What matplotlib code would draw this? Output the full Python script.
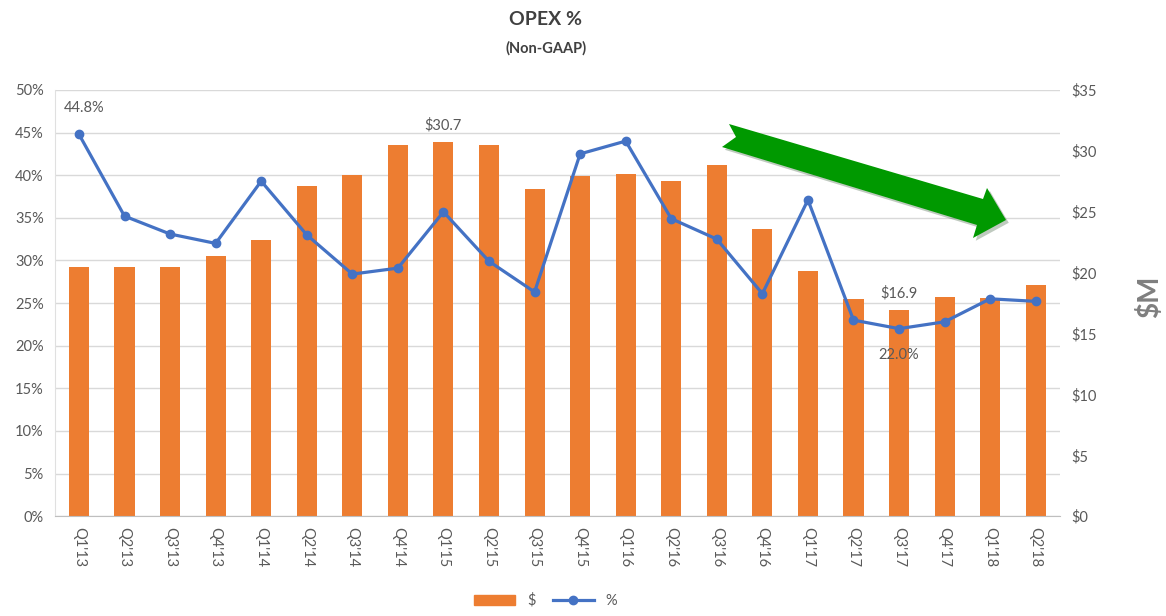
import matplotlib
matplotlib.use("Agg")
import matplotlib.pyplot as plt
from matplotlib.patches import Polygon, Patch
from matplotlib.lines import Line2D
import matplotlib.patheffects as pe

plt.rcParams['font.family'] = ['Lato', 'DejaVu Sans']

# data
quarters = ["Q1'13", "Q2'13", "Q3'13", "Q4'13", "Q1'14", "Q2'14", "Q3'14", "Q4'14",
            "Q1'15", "Q2'15", "Q3'15", "Q4'15", "Q1'16", "Q2'16", "Q3'16", "Q4'16",
            "Q1'17", "Q2'17", "Q3'17", "Q4'17", "Q1'18", "Q2'18"]
opex_dollars = [20.5, 20.5, 20.5, 21.4, 22.7, 27.1, 28.0, 30.5,
                30.7, 30.5, 26.9, 27.9, 28.1, 27.5, 28.8, 23.6,
                20.1, 17.8, 16.9, 18.0, 17.9, 19.0]
opex_pct = [44.8, 35.2, 33.1, 32.0, 39.3, 33.0, 28.4, 29.1,
            35.7, 29.9, 26.3, 42.5, 44.0, 34.9, 32.5, 26.1,
            37.1, 23.0, 22.0, 22.8, 25.5, 25.2]

BAR = '#ED7D31'
LINE = '#4472C4'
TXT = '#595959'

fig = plt.figure(figsize=(11.66, 6.16), dpi=100)
ax = fig.add_axes([0.047, 0.162, 0.862, 0.692])
ax2 = ax.twinx()

x = list(range(len(quarters)))

# bars in $M on right axis
ax2.bar(x, opex_dollars, width=0.44, color=BAR, zorder=2)
ax2.set_ylim(0, 35)
ax2.set_yticks(range(0, 36, 5))
ax2.set_yticklabels([f"${v}" for v in range(0, 36, 5)])

# % line on left axis, drawn over bars
ax.set_zorder(ax2.get_zorder() + 1)
ax.patch.set_visible(False)
ax.plot(x, opex_pct, color=LINE, lw=2.3, marker='o', ms=6, zorder=3)
ax.set_ylim(0, 50)
ax.set_yticks(range(0, 51, 5))
ax.set_yticklabels([f"{v}%" for v in range(0, 51, 5)])
ax.set_xlim(-0.53, len(quarters) - 0.47)
ax.set_xticks(x)
ax.set_xticklabels(quarters, rotation=-90)

# gridlines behind everything, on the bar axis
for v in range(0, 51, 5):
    ax2.axhline(v * 35 / 50, color='#d9d9d9', lw=1, zorder=0)

for a in (ax, ax2):
    for s in a.spines.values():
        s.set_visible(False)
    a.tick_params(length=0, colors=TXT, labelsize=10.5)
ax.spines['bottom'].set_visible(True)
ax.spines['bottom'].set_color('#bfbfbf')
ax.spines['left'].set_visible(True)
ax.spines['left'].set_color('#e0e0e0')
ax.tick_params(axis='y', pad=8)
ax2.tick_params(axis='y', pad=8)
ax.tick_params(axis='x', pad=8)

# annotations
ax.annotate("44.8%", (0, opex_pct[0]), xytext=(4, 16), textcoords='offset points',
            ha='center', color=TXT, fontsize=10.5)
ax2.annotate(f"${opex_dollars[8]}", (8, opex_dollars[8]), xytext=(0, 9), textcoords='offset points',
             ha='center', color=TXT, fontsize=10.5)
ax2.annotate(f"${opex_dollars[18]}", (18, opex_dollars[18]), xytext=(0, 9), textcoords='offset points',
             ha='center', color=TXT, fontsize=10.5)
ax.annotate("22.0%", (18, opex_pct[18]), xytext=(0, -22), textcoords='offset points',
            ha='center', color=TXT, fontsize=10.5)

# titles
fig.text(0.468, 0.969, "OPEX %", ha='center', va='center', fontsize=14, fontweight='bold', color='#404040')
fig.text(0.468, 0.922, "(Non-GAAP)", ha='center', va='center', fontsize=10.5, fontweight='bold', color='#404040')
fig.text(0.986, 0.518, "$M", ha='center', va='center', rotation=90, fontsize=20,
         fontweight='bold', color='#7f7f7f')

# green trend arrow (figure pixel coordinates, origin bottom-left)
H = 616
pts = [(729, 124), (983, 199), (987, 188), (1006, 220), (973, 238), (977, 225), (722, 147), (736, 137)]
arrow = Polygon([(px, H - py) for px, py in pts], closed=True, transform=None,
                facecolor='#009900', edgecolor='none', zorder=10,
                path_effects=[pe.SimplePatchShadow(offset=(2, -2), alpha=0.25), pe.Normal()])
fig.patches.append(arrow)

# legend
handles = [Patch(color=BAR, label='$'),
           Line2D([0], [0], color=LINE, lw=2.3, marker='o', ms=6, label='%')]
fig.legend(handles=handles, loc='center', bbox_to_anchor=(0.468, 0.025), ncol=2, frameon=False,
           fontsize=10.5, handlelength=2.8, columnspacing=1.2, labelcolor=TXT)

fig.savefig("out.png", dpi=100)
